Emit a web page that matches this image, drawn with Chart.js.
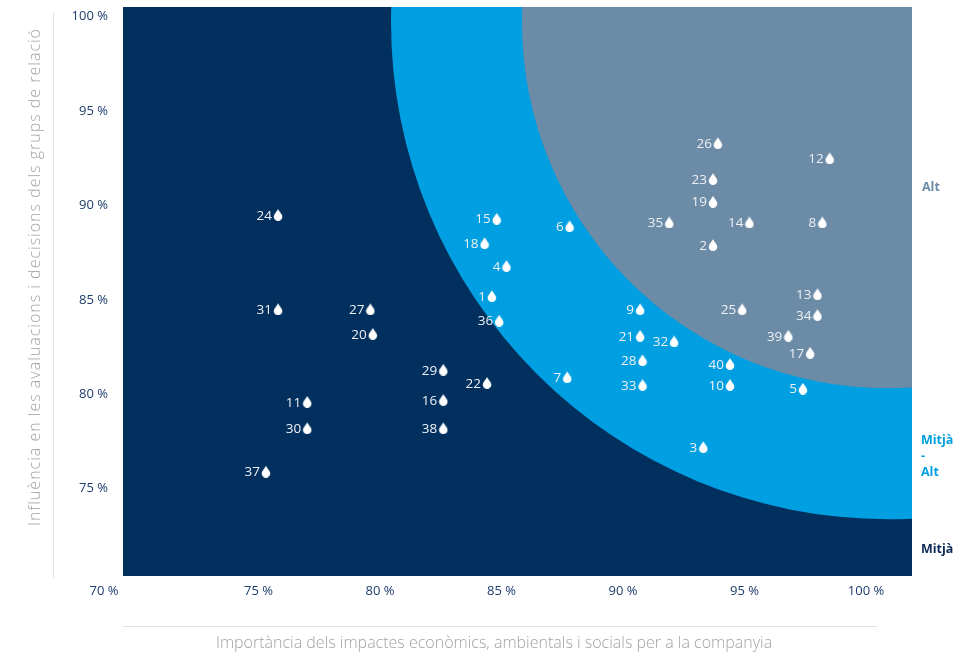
<!DOCTYPE html>
<html>
<head>
<meta charset="utf-8">
<script src="https://cdn.jsdelivr.net/npm/chart.js@4/dist/chart.umd.min.js"></script>
<style>
  html, body { margin: 0; padding: 0; background: #fff; overflow: hidden; }
  #wrap { position: relative; width: 979px; height: 653px; }
</style>
</head>
<body>
<div id="wrap"><canvas id="matrix"></canvas></div>
<script>
// DATA
const pointIds = [1, 2, 3, 4, 5, 6, 7, 8, 9, 10,
                  11, 12, 13, 14, 15, 16, 17, 18, 19, 20,
                  21, 22, 23, 24, 25, 26, 27, 28, 29, 30,
                  31, 32, 33, 34, 35, 36, 37, 38, 39, 40];
// importancia per a la companyia (%)
const xValues = [84.6, 93.7, 93.3, 85.2, 97.4, 87.8, 87.7, 98.2, 90.7, 94.4,
                 77.0, 98.5, 98.0, 95.2, 84.8, 82.6, 97.7, 84.3, 93.7, 79.7,
                 90.7, 84.4, 93.7, 75.8, 94.9, 93.9, 79.6, 90.8, 82.6, 77.0,
                 75.8, 92.1, 90.8, 98.0, 91.9, 84.9, 75.3, 82.6, 96.8, 94.4];
// influencia en els grups de relacio (%)
const yValues = [85.2, 87.9, 77.2, 86.8, 80.3, 88.9, 80.9, 89.1, 84.5, 80.5,
                 79.6, 92.5, 85.3, 89.1, 89.3, 79.7, 82.2, 88.0, 90.2, 83.2,
                 83.1, 80.6, 91.4, 89.5, 84.5, 93.3, 84.5, 81.8, 81.3, 78.2,
                 84.5, 82.8, 80.5, 84.2, 89.1, 83.9, 75.9, 78.2, 83.1, 81.6];
const xTicks = [75, 80, 85, 90, 95, 100];
const yTicks = [75, 80, 85, 90, 95, 100];

const xTitle = "Importància dels impactes econòmics, ambientals i socials per a la companyia";
const yTitle = "Influència en les avaluacions i decisions dels grups de relació";

// colours
const NAVY = "#01305e";
const BLUE = "#009fe2";
const GREY = "#6c8ba6";
const TICK = "#1d3c6c";

// zone circles (centre in data units, radius in x units)
const zoneCentre = [100.9, 99.7];
const zoneRadius = { blue: 20.45, grey: 15.06 };

// droplet marker
function makeDrop() {
    const c = document.createElement("canvas");
    c.width = 10; c.height = 12;
    const g = c.getContext("2d");
    g.fillStyle = "#ffffff";
    g.beginPath();
    g.moveTo(5, 0.3);
    g.bezierCurveTo(6.5, 3, 9.3, 5.5, 9.3, 7.7);
    g.arc(5, 7.7, 4.3, 0, Math.PI, false);
    g.bezierCurveTo(0.7, 5.5, 3.5, 3, 5, 0.3);
    g.fill();
    return c;
}

const zonesPlugin = {
    id: "zones",
    beforeDatasetsDraw(chart) {
        const { ctx, chartArea: a, scales: { x, y } } = chart;
        const cx = x.getPixelForValue(zoneCentre[0]);
        const cy = y.getPixelForValue(zoneCentre[1]);
        const rB = x.getPixelForValue(zoneCentre[0] + zoneRadius.blue) - cx;
        const rG = x.getPixelForValue(zoneCentre[0] + zoneRadius.grey) - cx;
        ctx.save();
        ctx.beginPath();
        ctx.rect(a.left, a.top, a.right - a.left, a.bottom - a.top);
        ctx.clip();
        ctx.fillStyle = NAVY;
        ctx.fillRect(a.left, a.top, a.right - a.left, a.bottom - a.top);
        ctx.fillStyle = BLUE;
        ctx.beginPath(); ctx.arc(cx, cy, rB, 0, Math.PI * 2); ctx.fill();
        ctx.fillStyle = GREY;
        ctx.beginPath(); ctx.arc(cx, cy, rG, 0, Math.PI * 2); ctx.fill();
        ctx.restore();
    },
    afterDatasetsDraw(chart) {
        const { ctx } = chart;
        const meta = chart.getDatasetMeta(0);
        ctx.save();
        ctx.font = "13.5px 'Open Sans'";
        ctx.fillStyle = "#eef0f5";
        ctx.textAlign = "right";
        ctx.textBaseline = "middle";
        meta.data.forEach((pt, i) => {
            ctx.fillText(String(pointIds[i]), pt.x - 6, pt.y + 1);
        });
        ctx.restore();
    },
    afterDraw(chart) {
        const { ctx, chartArea: a } = chart;
        ctx.save();
        // separator lines
        ctx.strokeStyle = "#e2e2e2";
        ctx.lineWidth = 1;
        ctx.beginPath();
        ctx.moveTo(53.5, a.top + 5); ctx.lineTo(53.5, a.bottom + 2);
        ctx.moveTo(a.left, 626.5); ctx.lineTo(a.right - 35, 626.5);
        ctx.stroke();

        // axis titles
        ctx.fillStyle = "#a3a3a3";
        ctx.font = "300 16px 'Open Sans'";
        ctx.textAlign = "center";
        ctx.textBaseline = "middle";
        ctx.fillText(xTitle, 494, 643);
        ctx.save();
        ctx.translate(35, 277);
        ctx.rotate(-Math.PI / 2);
        ctx.letterSpacing = "1px";
        ctx.fillText(yTitle, 0, 0);
        ctx.restore();

        // corner 70 %
        ctx.fillStyle = TICK;
        ctx.font = "13px 'Open Sans'";
        ctx.fillText("70 %", a.left - 19, 591);

        // zone labels
        ctx.textAlign = "left";
        ctx.font = "bold 12.5px 'Open Sans'";
        ctx.fillStyle = GREY;
        ctx.fillText("Alt", a.right + 10, 187);
        ctx.fillStyle = BLUE;
        ctx.fillText("Mitjà", a.right + 9, 440);
        ctx.fillText("-", a.right + 9, 456);
        ctx.fillText("Alt", a.right + 9, 472);
        ctx.fillStyle = "#0c2b58";
        ctx.fillText("Mitjà", a.right + 9, 549);
        ctx.restore();
    }
};

const tickFont = { family: "'Open Sans'", size: 13 };

new Chart(document.getElementById("matrix"), {
    type: "scatter",
    data: {
        datasets: [{
            data: xValues.map((v, i) => ({ x: v, y: yValues[i] })),
            pointStyle: makeDrop(),
            pointRadius: 5,
            pointHoverRadius: 5
        }]
    },
    options: {
        responsive: true,
        maintainAspectRatio: false,
        animation: false,
        events: [],
        layout: { padding: { top: 7, right: 67, left: 0, bottom: 0 } },
        plugins: { legend: { display: false }, tooltip: { enabled: false } },
        scales: {
            x: {
                type: "linear",
                min: 69.42,
                max: 101.89,
                grid: { display: false, drawTicks: false },
                border: { display: false },
                ticks: { color: TICK, font: tickFont, padding: 7, callback: v => v + " %" },
                afterBuildTicks: s => { s.ticks = xTicks.map(v => ({ value: v })); },
                afterFit: s => { s.height = 77; s.paddingLeft = 0; s.paddingRight = 0; }
            },
            y: {
                type: "linear",
                min: 70.37,
                max: 100.51,
                grid: { display: false, drawTicks: false },
                border: { display: false },
                ticks: { color: TICK, font: tickFont, padding: 15, callback: v => v + " %" },
                afterBuildTicks: s => { s.ticks = yTicks.map(v => ({ value: v })); },
                afterFit: s => { s.width = 123; s.paddingTop = 0; s.paddingBottom = 0; }
            }
        }
    },
    plugins: [zonesPlugin]
});
</script>
</body>
</html>
